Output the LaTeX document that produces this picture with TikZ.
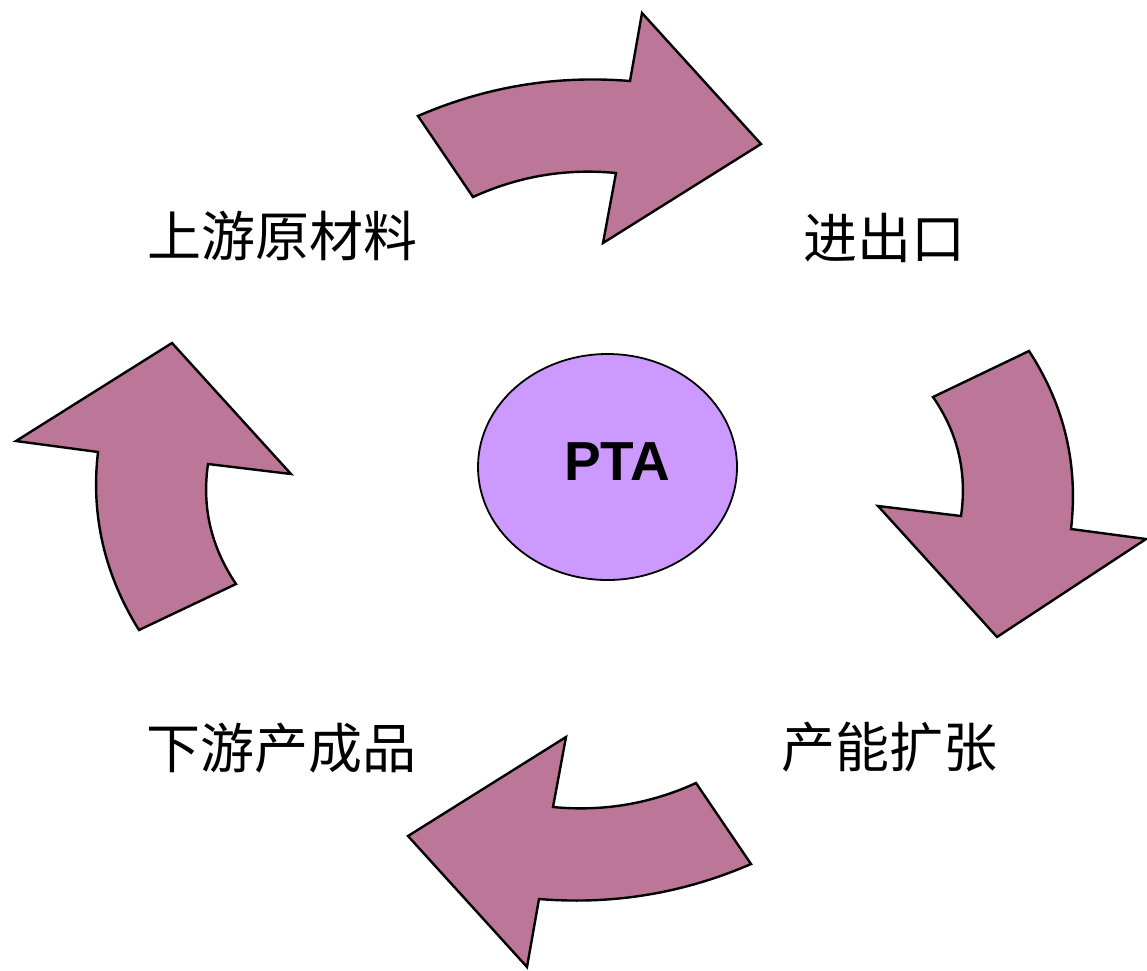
\documentclass[tikz,border=0pt]{standalone}
\usepackage{fontspec}
\setmainfont{Liberation Sans}
\newfontfamily\cjk{Noto Sans CJK SC}
\usetikzlibrary{shapes.geometric}
\definecolor{arrowfill}{RGB}{187,118,152}
\definecolor{ellfill}{RGB}{204,153,255}
\begin{document}
\begin{tikzpicture}[x=1pt,y=-1pt,
  arrowshape/.style={fill=arrowfill,draw=black,line width=2.4pt,line join=miter},
  cjklabel/.style={font=\cjk\fontsize{54}{60}\selectfont,inner sep=0pt},
  ptaell/.style={ellipse,draw=black,line width=1.8pt,fill=ellfill,minimum width=259pt,minimum height=226pt,inner sep=0pt}]
\useasboundingbox (0,0) rectangle (1147,970);
% top arrow
\path[arrowshape] (418,116) .. controls (485.8,86.6) and (556.4,75.0) .. (630,81)
  -- (642,13) -- (761,144) -- (603,243) -- (616,173)
  .. controls (566.1,168.2) and (518.5,176.2) .. (473,197) -- cycle;
% right arrow
\path[arrowshape] (933,397) -- (1029,351)
  .. controls (1064.4,405.2) and (1078.4,464.6) .. (1071,529)
  -- (1146,539) -- (997,637) -- (878,506) -- (961,516)
  .. controls (967.3,472.6) and (957.9,433.0) .. cycle;
% bottom arrow
\begin{scope}[rotate around={180:(584.5,490)}]
\path[arrowshape] (418,116) .. controls (485.8,86.6) and (556.4,75.0) .. (630,81)
  -- (642,13) -- (761,144) -- (603,243) -- (616,173)
  .. controls (566.1,168.2) and (518.5,176.2) .. (473,197) -- cycle;
\end{scope}
% left arrow
\path[arrowshape] (236,584) -- (139,630)
  .. controls (104.6,575) and (90.6,515) .. (98,452)
  -- (16,441) -- (172,343) -- (291,474) -- (208,464)
  .. controls (201.7,507.4) and (211.1,547.0) .. cycle;
\node[ptaell] (ell) at (607.5,467) {};
\node[font=\bfseries\fontsize{55}{60}\selectfont,inner sep=0pt] (pta) at (617,462) {PTA};
\node[cjklabel] (up) at (282.5,236) {上游原材料};
\node[cjklabel] (io) at (884.5,238) {进出口};
\node[cjklabel] (down) at (281.5,748) {下游产成品};
\node[cjklabel] (cap) at (889.5,747) {产能扩张};
\end{tikzpicture}
\end{document}
